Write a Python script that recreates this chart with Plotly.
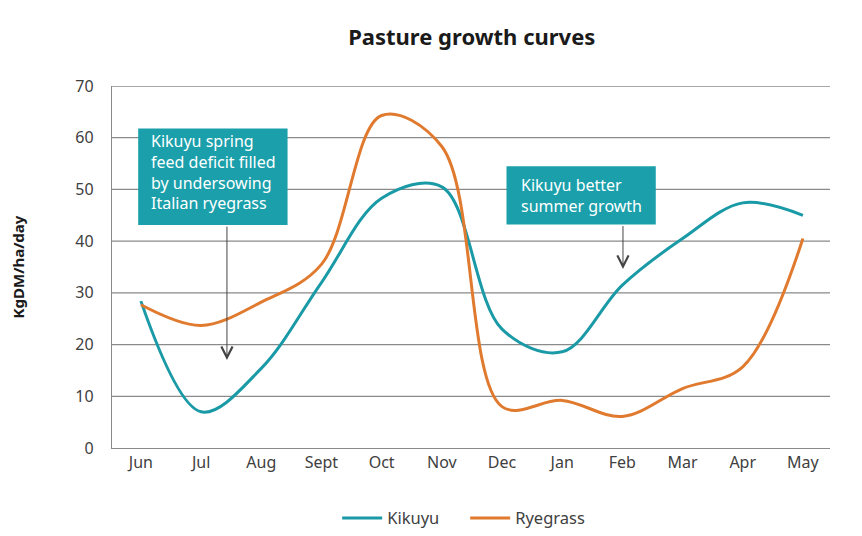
import plotly.graph_objects as go

months = ["Jun", "Jul", "Aug", "Sept", "Oct", "Nov", "Dec", "Jan", "Feb", "Mar", "Apr", "May"]
kikuyu = [28.4, 7.0, 15.4, 32.0, 48.3, 50.5, 23.0, 18.6, 31.5, 40.5, 47.4, 45.0]
ryegrass = [27.7, 23.7, 28.2, 35.5, 64.3, 58.3, 8.0, 9.2, 6.1, 11.5, 15.7, 40.5]
y_ticks = [0, 10, 20, 30, 40, 50, 60, 70]

TEAL = "#1a9aa6"
BOX = "#1a9fab"
ORANGE = "#e07a2e"
GRID = "#8a8a8a"
FONT = "Noto Sans"

x_idx = list(range(len(months)))

fig = go.Figure()
fig.add_trace(go.Scatter(x=x_idx, y=kikuyu, name="Kikuyu", mode="lines",
                         line=dict(color=TEAL, width=3, shape="spline", smoothing=1.0)))
fig.add_trace(go.Scatter(x=x_idx, y=ryegrass, name="Ryegrass", mode="lines",
                         line=dict(color=ORANGE, width=3, shape="spline", smoothing=1.0)))

shapes = []
# horizontal gridlines (except 0, where the axis line sits)
for v in y_ticks[1:]:
    shapes.append(dict(type="line", xref="paper", yref="y", x0=0, x1=1, y0=v, y1=v,
                       line=dict(color=GRID, width=1.3), layer="below"))
# callout boxes
shapes.append(dict(type="rect", xref="x", yref="y", x0=-0.045, x1=2.437, y0=43.1, y1=61.8,
                   fillcolor=BOX, line=dict(width=0), layer="above"))
shapes.append(dict(type="rect", xref="x", yref="y", x0=6.075, x1=8.555, y0=43.2, y1=54.5,
                   fillcolor=BOX, line=dict(width=0), layer="above"))

annotations = [
    dict(xref="x", yref="y", x=0.14, y=53.4, xanchor="left", yanchor="middle",
         text="Kikuyu spring<br>feed deficit filled<br>by undersowing<br>Italian ryegrass",
         align="left", showarrow=False, font=dict(family=FONT, size=16, color="white")),
    dict(xref="x", yref="y", x=6.28, y=48.9, xanchor="left", yanchor="middle",
         text="Kikuyu better<br>summer growth",
         align="left", showarrow=False, font=dict(family=FONT, size=16, color="white")),
    # arrows
    dict(xref="x", yref="y", axref="x", ayref="y", x=1.43, y=17.0, ax=1.43, ay=43.1,
         text="", showarrow=True, arrowhead=5, arrowsize=2.2, arrowwidth=1, arrowcolor="#444444"),
    dict(xref="x", yref="y", axref="x", ayref="y", x=8.01, y=34.6, ax=8.01, ay=43.2,
         text="", showarrow=True, arrowhead=5, arrowsize=2.2, arrowwidth=1, arrowcolor="#444444"),
]

fig.update_layout(
    width=862, height=536,
    margin=dict(l=104, r=40, t=78, b=96, autoexpand=False),
    paper_bgcolor="white", plot_bgcolor="white",
    font=dict(family=FONT, size=16, color="#404040"),
    title=dict(text="<b>Pasture growth curves</b>", x=0.538, xanchor="center",
               y=1 - 29.5 / 536, yanchor="middle",
               font=dict(family=FONT, size=22, color="#1a1a1a")),
    showlegend=True,
    legend=dict(orientation="h", x=0.3136, xanchor="left", y=-0.1455, yanchor="top",
                font=dict(family=FONT, size=16.5, color="#404040"),
                itemwidth=40, entrywidth=73, entrywidthmode="pixels"),
    shapes=shapes,
    annotations=annotations,
    xaxis=dict(range=[-0.48, 11.45], tickmode="array", tickvals=x_idx, ticktext=months,
               showgrid=False, zeroline=False, showline=True, linecolor=GRID, linewidth=1.3,
               ticks="", ticklabelstandoff=0, automargin=False, fixedrange=True),
    yaxis=dict(range=[0, 70], tickmode="array", tickvals=y_ticks,
               showgrid=False, zeroline=False, showline=True, linecolor=GRID, linewidth=1.3,
               ticks="", ticklabelstandoff=14, automargin=False,
               title=dict(text="<b>KgDM/ha/day</b>", standoff=56,
                          font=dict(family=FONT, size=15, color="#1a1a1a")),
               fixedrange=True),
)

fig.write_html("out.html")
